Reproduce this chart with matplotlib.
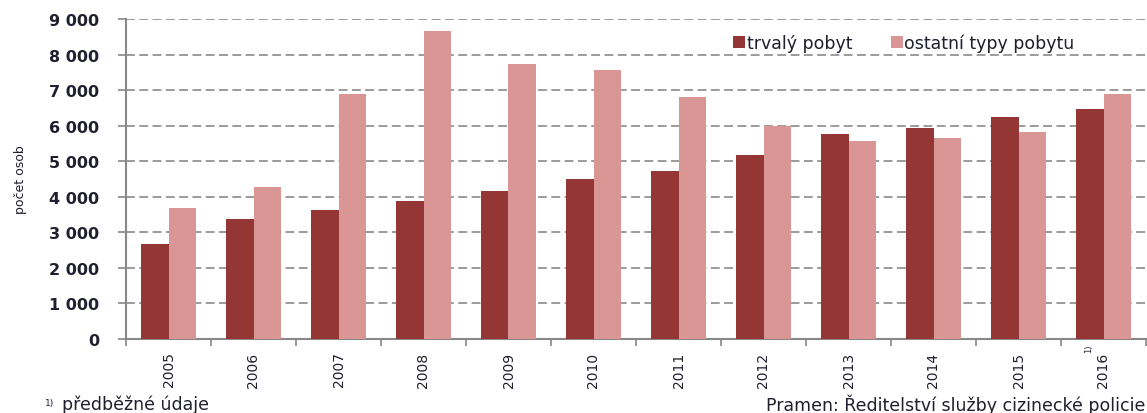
import numpy as np
import matplotlib
matplotlib.use('Agg')
import matplotlib.pyplot as plt
from matplotlib.ticker import FuncFormatter

# data
years = ['2005', '2006', '2007', '2008', '2009', '2010',
         '2011', '2012', '2013', '2014', '2015', '2016']
trvaly_pobyt = [2670, 3380, 3630, 3880, 4160, 4500,
                4730, 5170, 5760, 5940, 6230, 6460]
ostatni_typy = [3690, 4280, 6890, 8660, 7740, 7570,
                6800, 5980, 5570, 5650, 5820, 6890]
series_names = ['trvalý pobyt', 'ostatní typy pobytu']
y_ticks = [0, 1000, 2000, 3000, 4000, 5000, 6000, 7000, 8000, 9000]

dark = '#943634'
light = '#d99694'
text_col = '#1f1f2e'

fig = plt.figure(figsize=(11.47, 4.14), dpi=100)
ax = fig.add_axes([126 / 1147, 74 / 414, 1020 / 1147, 320 / 414])

x = np.arange(len(years))
w = 0.325
ax.bar(x - w / 2, trvaly_pobyt, w, color=dark, label=series_names[0], zorder=3)
ax.bar(x + w / 2, ostatni_typy, w, color=light, label=series_names[1], zorder=3)

ax.set_xlim(-0.5, len(years) - 0.5)
ax.set_ylim(0, 9000)
ax.set_yticks(y_ticks)
ax.yaxis.set_major_formatter(FuncFormatter(lambda v, p: '{:,.0f}'.format(v).replace(',', ' ')))
ax.yaxis.grid(True, color='#808080', linestyle=(0, (5.8, 2.9)), linewidth=1.1, zorder=0)
ax.set_axisbelow(True)

# category labels at centres, tick marks at the boundaries
ax.set_xticks(x)
ax.set_xticklabels(years, rotation=90, fontsize=10, color=text_col)
ax.tick_params(axis='x', which='major', length=0, pad=9)
ax.set_xticks(np.arange(-0.5, len(years)), minor=True)
ax.tick_params(axis='x', which='minor', length=5, color='#888888', width=1.2)
ax.tick_params(axis='y', length=6, color='#888888', width=1.2, pad=13,
               labelsize=11.5, labelcolor=text_col)
for lab in ax.get_yticklabels():
    lab.set_fontweight('bold')

for side in ['top', 'right']:
    ax.spines[side].set_visible(False)
for side in ['left', 'bottom']:
    ax.spines[side].set_color('#888888')
    ax.spines[side].set_linewidth(1.5)

ax.set_ylabel('počet osob', fontsize=9, color=text_col)
ax.yaxis.set_label_coords(-0.097, 0.5)

ax.legend(loc='upper left', bbox_to_anchor=(600 / 1020, 0.975), ncol=2, frameon=False,
          fontsize=12.5, handlelength=0.7, handleheight=0.7, handletextpad=0.1,
          columnspacing=2.2, labelcolor=text_col, borderaxespad=0)

# footnote mark on 2016
ax.text(11 - 0.17, -120, '1)', rotation=90, fontsize=6, color=text_col,
        ha='center', va='top')

fig.text(45 / 1147, 1 - 404 / 414, '1)', fontsize=6.5, color=text_col, va='center')
fig.text(62 / 1147, 1 - 405 / 414, 'předběžné údaje', fontsize=12.5, color=text_col, va='center')
fig.text(1145 / 1147, 1 - 405 / 414, 'Pramen: Ředitelství služby cizinecké policie',
         fontsize=12.5, color=text_col, va='center', ha='right')

fig.savefig('out.png', dpi=100)
